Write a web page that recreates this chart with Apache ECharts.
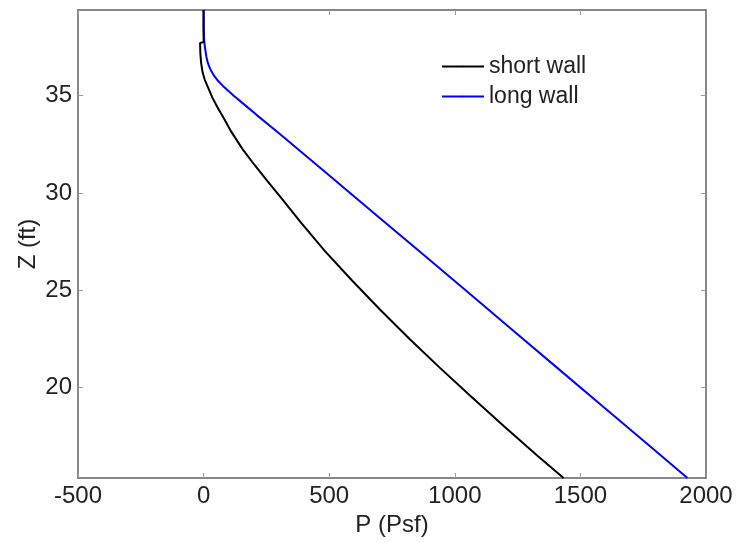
<!DOCTYPE html>
<html>
<head>
<meta charset="utf-8">
<script src="https://cdn.jsdelivr.net/npm/echarts@6/dist/echarts.min.js"></script>
<style>
  html, body { margin: 0; padding: 0; background: #fff; }
  #chart { width: 739px; height: 542px; }
</style>
</head>
<body>
<div id="chart"></div>
<script>
  // P (psf) vs Z (ft)
  var shortWall = [
    [0, 39.4], [0, 37.75], [-14, 37.7], [-13, 37.2], [-10, 36.7], [-4, 36.2],
    [5, 35.8], [15, 35.5], [35, 34.9], [55, 34.4], [80, 33.85], [110, 33.15],
    [155, 32.25], [202, 31.45], [255, 30.6], [312, 29.7], [386, 28.5], [484, 27.0],
    [591, 25.5], [703, 24.0], [820, 22.5], [942, 21.0], [1068, 19.5], [1197, 18.0],
    [1329, 16.5], [1433, 15.35]
  ];
  var longWall = [
    [0, 39.4], [0, 38.5], [1.5, 38.0], [5, 37.5], [11, 37.0], [15.5, 36.75],
    [22, 36.5], [31, 36.25], [43, 36.0], [58, 35.75], [77, 35.5], [98, 35.25],
    [120, 35.0], [166, 34.5], [212, 34.0], [306, 33.0], [491, 31.0], [675, 29.0],
    [859, 27.0], [1043, 25.0], [1226, 23.0], [1409, 21.0], [1592, 19.0],
    [1776, 17.0], [1926, 15.35]
  ];
  var seriesNames = ['short wall', 'long wall'];
  var zTicks = [20, 25, 30, 35];

  var font = "'Liberation Sans', Arial, sans-serif";
  var frame = '#606060';

  var myChart = echarts.init(document.getElementById('chart'));

  function xAxisOf(pos, labels) {
    return {
      type: 'value',
      position: pos,
      min: -500,
      max: 2000,
      interval: 500,
      name: labels ? 'P (Psf)' : '',
      nameLocation: 'middle',
      nameGap: 34,
      nameTextStyle: {fontSize: 24, color: '#222', fontFamily: font},
      axisLine: {show: true, onZero: false, lineStyle: {color: frame, width: 1.5}},
      axisTick: {show: true, inside: true, length: 5, lineStyle: {color: '#999'}},
      axisLabel: {
        show: labels, fontSize: 24, color: '#222', fontFamily: font, margin: 6,
        formatter: function (v) { return String(v); }
      },
      splitLine: {show: false}
    };
  }
  function yAxisOf(pos, labels) {
    return {
      type: 'value',
      position: pos,
      min: 15.35,
      max: 39.4,
      name: labels ? 'Z (ft)' : '',
      nameLocation: 'middle',
      nameGap: 38,
      nameMoveOverlap: false,
      nameTextStyle: {fontSize: 24, color: '#222', fontFamily: font},
      axisLine: {show: true, onZero: false, lineStyle: {color: frame, width: 1.5}},
      axisTick: {show: true, inside: true, length: 5, customValues: zTicks, lineStyle: {color: '#999'}},
      axisLabel: {show: labels, fontSize: 24, color: '#222', fontFamily: font, margin: 6, customValues: zTicks},
      splitLine: {show: false}
    };
  }

  myChart.setOption({
    animation: false,
    backgroundColor: '#fff',
    grid: {left: 78, right: 33, top: 10, bottom: 61, containLabel: false},
    legend: {
      orient: 'vertical',
      left: 441,
      top: 55,
      padding: 0,
      itemWidth: 42,
      itemHeight: 2,
      itemGap: 7,
      textStyle: {fontSize: 23, color: '#222', fontFamily: font, lineHeight: 23},
      data: seriesNames
    },
    xAxis: [xAxisOf('bottom', true), xAxisOf('top', false)],
    yAxis: [yAxisOf('left', true), yAxisOf('right', false)],
    series: [
      {
        name: seriesNames[0],
        type: 'line',
        data: shortWall,
        showSymbol: false,
        symbol: 'none',
        z: 3,
        lineStyle: {color: '#000', width: 2},
        itemStyle: {color: '#000'}
      },
      {
        name: seriesNames[1],
        type: 'line',
        data: longWall,
        showSymbol: false,
        symbol: 'none',
        z: 2,
        lineStyle: {color: '#0000ff', width: 2},
        itemStyle: {color: '#0000ff'}
      }
    ]
  });
</script>
</body>
</html>
